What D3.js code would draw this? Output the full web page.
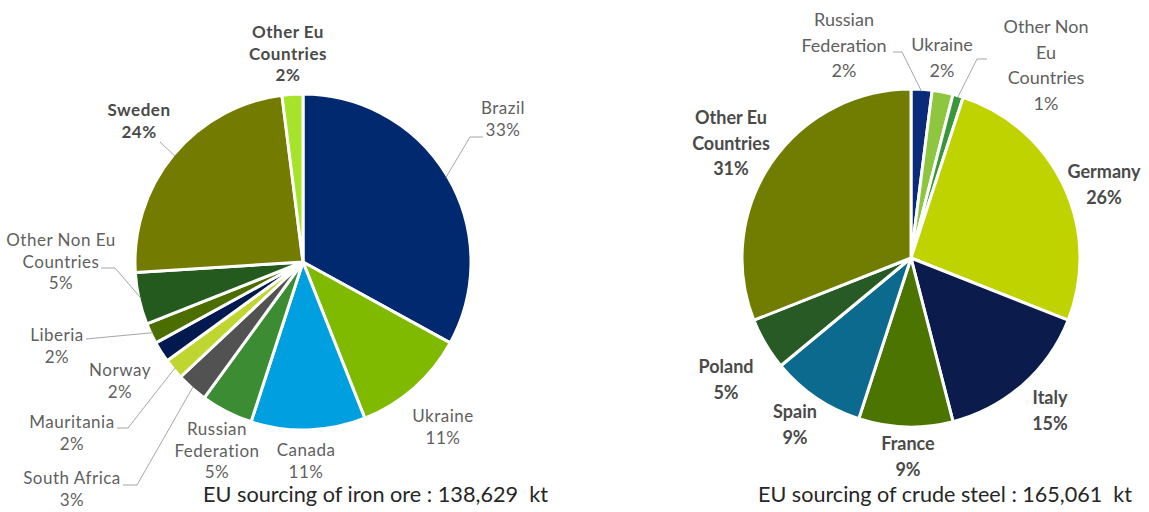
<!DOCTYPE html>
<html>
<head>
<meta charset="utf-8">
<script src="https://cdn.jsdelivr.net/npm/d3@7"></script>
<style>
  body { margin: 0; background: #ffffff; }
  svg { display: block; }
  text { font-family: Lato, "Open Sans", "Noto Sans", sans-serif; }
</style>
</head>
<body>
<svg id="chart" width="1149" height="512"></svg>
<script>
// ---------------- DATA ----------------
const ironCategories = ["Brazil", "Ukraine", "Canada", "Russian Federation", "South Africa",
  "Mauritania", "Norway", "Liberia", "Other Non Eu Countries", "Sweden", "Other Eu Countries"];
const ironValues = [33, 11, 11, 5, 3, 2, 2, 2, 5, 24, 2];
const ironLabelLines = [["Brazil"], ["Ukraine"], ["Canada"], ["Russian", "Federation"], ["South Africa"],
  ["Mauritania"], ["Norway"], ["Liberia"], ["Other Non Eu", "Countries"], ["Sweden"], ["Other Eu", "Countries"]];
const ironTitle = "EU sourcing of iron ore : 138,629  kt";

const steelCategories = ["Russian Federation", "Ukraine", "Other Non Eu Countries", "Germany", "Italy",
  "France", "Spain", "Poland", "Other Eu Countries"];
const steelValues = [2, 2, 1, 26, 15, 9, 9, 5, 31];
const steelLabelLines = [["Russian", "Federation"], ["Ukraine"], ["Other Non", "Eu", "Countries"], ["Germany"], ["Italy"],
  ["France"], ["Spain"], ["Poland"], ["Other Eu", "Countries"]];
const steelTitle = "EU sourcing of crude steel : 165,061  kt";

// ---------------- LAYOUT / STYLE ----------------
const ironLayout = {
  cx: 303, cy: 262, r: 168,
  colors: ["#00296f", "#7fba00", "#00a0e0", "#3c8c33", "#525252", "#c0d630", "#001a4f", "#4c6e00", "#245a1d", "#737b00", "#a6e42b"],
  bold: [false, false, false, false, false, false, false, false, false, true, true],
  labelPos: [[503, 108], [443, 416], [306, 450], [217, 429], [72, 478], [72, 422], [120, 370], [57, 335], [61, 240], [139, 110], [288, 32]],
  lineGap: 21.5, fontSize: 17, letterSpacing: 0.5,
  leaders: [
    { i: 0, pts: [[470, 137], [483, 137]] },
    { i: 9, pts: [[160, 142]] },
    { i: 8, pts: [[115, 268], [101, 268]] },
    { i: 7, pts: [[86, 339]] },
    { i: 5, pts: [[128, 428], [117, 428]] },
    { i: 4, pts: [[137, 485], [123, 485]] }
  ],
  title: { x: 203, y: 502, len: 345 }
};
const steelLayout = {
  cx: 911, cy: 258, r: 169,
  colors: ["#0a2a7a", "#8ec63f", "#3a963a", "#bfd300", "#0b1c4c", "#4b7400", "#0b6a8e", "#275a24", "#717d00"],
  bold: [false, false, false, true, true, true, true, true, true],
  labelPos: [[844, 20], [942, 45], [1046, 27], [1104, 172], [1050, 398], [908, 444], [795, 412], [726, 367], [731, 118]],
  lineGap: 25.5, fontSize: 18, letterSpacing: 0,
  leaders: [
    { i: 0, pts: [[902, 52], [893, 52]] },
    { i: 2, pts: [[977, 59], [987, 59]] }
  ],
  title: { x: 758, y: 502, len: 374 }
};

const svg = d3.select("#chart");

function drawPie(categories, values, labelLines, title, L) {
  const total = d3.sum(values);
  const pie = d3.pie().sort(null).value(d => d.value);
  const arcs = pie(values.map((v, i) => ({ value: v, name: categories[i], i })));
  const arc = d3.arc().innerRadius(0).outerRadius(L.r);
  const g = svg.append("g").attr("transform", `translate(${L.cx},${L.cy})`);

  g.selectAll("path.slice")
    .data(arcs)
    .join("path")
    .attr("class", "slice")
    .attr("d", arc)
    .attr("fill", d => L.colors[d.index])
    .attr("stroke", "#ffffff")
    .attr("stroke-width", 3)
    .attr("stroke-linejoin", "round");

  // leader lines
  L.leaders.forEach(l => {
    const a = arcs[l.i];
    const mid = (a.startAngle + a.endAngle) / 2;
    const rr = L.r - 2;
    const start = [Math.sin(mid) * rr, -Math.cos(mid) * rr];
    const pts = [start].concat(l.pts.map(p => [p[0] - L.cx, p[1] - L.cy]));
    g.append("path")
      .attr("d", d3.line()(pts))
      .attr("fill", "none")
      .attr("stroke", "#a6a6a6")
      .attr("stroke-width", 1);
  });

  // labels
  arcs.forEach((a, i) => {
    const lines = labelLines[i].concat([Math.round(a.value / total * 100) + "%"]);
    const [x, y] = L.labelPos[i];
    const t = svg.append("text")
      .attr("text-anchor", "middle")
      .attr("font-size", L.fontSize)
      .attr("font-weight", L.bold[i] ? "bold" : "normal")
      .attr("letter-spacing", L.letterSpacing)
      .attr("fill", L.bold[i] ? "#4a4a4a" : "#5f5f5f");
    lines.forEach((s, k) => {
      t.append("tspan").attr("x", x).attr("y", y + 6 + k * L.lineGap).text(s);
    });
  });

  svg.append("text")
    .attr("x", L.title.x)
    .attr("y", L.title.y)
    .attr("font-size", 21)
    .attr("fill", "#262626")
    .attr("textLength", L.title.len)
    .attr("lengthAdjust", "spacingAndGlyphs")
    .style("white-space", "pre")
    .text(title);
}

drawPie(ironCategories, ironValues, ironLabelLines, ironTitle, ironLayout);
drawPie(steelCategories, steelValues, steelLabelLines, steelTitle, steelLayout);
</script>
</body>
</html>
